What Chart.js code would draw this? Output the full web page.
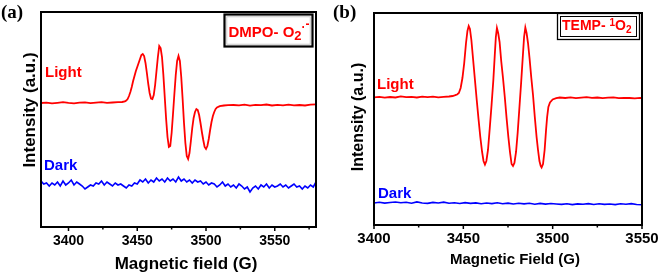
<!DOCTYPE html>
<html>
<head>
<meta charset="utf-8">
<title>EPR spectra</title>
<script src="https://cdn.jsdelivr.net/npm/chart.js@4.4.1/dist/chart.umd.min.js"></script>
<style>
    html, body { margin: 0; padding: 0; background: #fff; }
    #wrap { position: relative; width: 661px; height: 273px; }
    canvas { position: absolute; top: 0; }
    #chartA { left: 0; }
    #chartB { left: 330px; }
</style>
</head>
<body>
<div id="wrap">
    <canvas id="chartA" width="330" height="273"></canvas>
    <canvas id="chartB" width="331" height="273"></canvas>
</div>
<script>
// ---- Datos panel (a): DMPO ----
const ticksA = [3400, 3450, 3500, 3550];
const minorTicksA = [3425, 3475, 3525, 3575];

const fieldLightA = [3380, 3384, 3388, 3392, 3396, 3400, 3404, 3408, 3412, 3416, 3420, 3424, 3428, 3432, 3436, 3439, 3441,
    3442, 3443, 3444, 3445, 3446, 3447, 3448, 3449, 3450, 3451, 3452, 3453, 3454, 3455, 3456, 3457, 3458, 3459, 3460,
    3461, 3462, 3463, 3464, 3465, 3466, 3467, 3468, 3469, 3470, 3471, 3472, 3473, 3474, 3475, 3476, 3477, 3478, 3479,
    3480, 3481, 3482, 3483, 3484, 3485, 3486, 3487, 3488, 3489, 3490, 3491, 3492, 3493, 3494, 3495, 3496, 3497, 3498,
    3499, 3500, 3501, 3502, 3503, 3504, 3505, 3506, 3507, 3508, 3510, 3513, 3516,
    3520, 3524, 3528, 3532, 3536, 3540, 3544, 3548, 3552, 3556, 3560, 3564, 3568, 3572, 3576, 3580];
const lightA = [124.0, 124.4, 123.6, 124.2, 124.8, 124.1, 123.7, 124.3, 124.6, 123.9, 124.4, 124.9, 124.2, 124.5, 124.8, 125.0, 125.6,
    126.5, 128, 131, 135, 140, 146, 151, 156, 160, 164, 168, 172, 173, 171, 164, 154, 143, 134, 128.5,
    128, 132, 142, 156, 170, 181, 179, 170, 152, 130, 108, 90, 80, 81, 94, 113, 133, 152, 166,
    171, 166, 150, 128, 104, 84, 71, 68, 74, 86, 99, 109, 115, 118, 117, 112, 104, 95, 87,
    80, 78, 81, 88, 97, 105, 111, 115, 118, 119.5, 120.8, 121.5, 121.8,
    122.0, 121.6, 122.3, 121.4, 122.1, 121.8, 122.5, 121.5, 122.2, 121.7, 122.4, 121.6, 122.0, 121.5, 122.3, 122.6];

const fieldDarkA = [3380, 3382, 3384, 3386, 3388, 3390, 3392, 3394, 3396, 3398, 3400, 3402, 3404, 3406, 3408, 3410, 3412,
    3414, 3416, 3418, 3420, 3422, 3424, 3426, 3428, 3430, 3432, 3434, 3436, 3438, 3440, 3442, 3444, 3446, 3448, 3450,
    3452, 3454, 3456, 3458, 3460, 3462, 3464, 3466, 3468, 3470, 3472, 3474, 3476, 3478, 3480, 3482, 3484, 3486, 3488,
    3490, 3492, 3494, 3496, 3498, 3500, 3502, 3504, 3506, 3508, 3510, 3512, 3514, 3516, 3518, 3520, 3522, 3524, 3526,
    3528, 3530, 3532, 3534, 3536, 3538, 3540, 3542, 3544, 3546, 3548, 3550, 3552, 3554, 3556, 3558, 3560, 3562, 3564,
    3566, 3568, 3570, 3572, 3574, 3576, 3578, 3580];
const darkA = [46, 43, 44, 41, 44, 42, 45, 41, 46, 42, 44, 47, 42, 45, 43, 41, 38,
    40, 42, 41, 44, 43, 46, 42, 45, 43, 41, 44, 42, 43, 41, 39, 42, 41, 44, 43,
    47, 45, 48, 44, 47, 45, 49, 46, 48, 45, 49, 46, 48, 45, 50, 46, 48, 45, 47,
    44, 47, 45, 46, 43, 45, 42, 44, 43, 40, 42, 45, 41, 43, 40, 42, 39, 43, 41,
    38, 40, 35, 39, 41, 38, 42, 40, 43, 39, 42, 40, 41, 43, 40, 42, 39, 41, 43,
    40, 41, 38, 41, 39, 42, 40, 45];

// ---- Datos panel (b): TEMP ----
const ticksB = [3400, 3450, 3500, 3550];
const minorTicksB = [3425, 3475, 3525];

const fieldLightB = [3400, 3403, 3406, 3409, 3412, 3415, 3418, 3421, 3424, 3427, 3430, 3433, 3436, 3439, 3442, 3444, 3445.5,
    3446.5, 3447.5, 3448.5, 3449.5, 3450.5, 3451.5, 3452.3, 3453, 3453.7, 3454.5, 3455.5, 3456.5, 3457.5, 3458.5, 3459.5,
    3460.5, 3461.3, 3462.1, 3462.9, 3463.8, 3464.8, 3465.8, 3466.8, 3467.6, 3468.2, 3468.8, 3469.5, 3470.3, 3471.2, 3472.2,
    3473.2, 3474.2, 3475.2, 3476.1, 3477.0, 3477.8, 3478.6, 3479.5, 3480.4, 3481.3, 3482.3, 3483.2, 3484.0, 3484.7, 3485.4,
    3486.2, 3487.1, 3488.0, 3489.0, 3490.0, 3491.0, 3491.8, 3492.6, 3493.3, 3493.8, 3494.6, 3495.5, 3496.3, 3496.9, 3497.6,
    3498.5, 3500, 3502, 3504, 3507, 3510, 3513, 3516, 3519, 3522, 3525, 3528, 3531, 3534, 3537, 3540, 3543, 3546, 3549, 3550];
const lightB = [127.6, 128.2, 127.4, 128.0, 127.5, 128.6, 127.8, 128.1, 127.5, 128.3, 127.9, 128.4, 127.7, 128.2, 128.5, 129.0, 129.8,
    130.5, 132, 137, 147, 162, 182, 194, 199, 196, 185, 165, 145, 125, 106, 88,
    73, 64, 60.5, 64, 75, 97, 120, 145, 170, 188, 197, 192, 183, 164, 147,
    128, 107, 88, 73, 61, 59, 62, 73, 92, 115, 141, 166, 188, 197.5, 192,
    182, 166, 148, 130, 108, 88, 75, 64, 59, 57.5, 61, 75, 95, 108, 118,
    122.5, 125.5, 126.8, 127.5, 127.0, 127.6, 126.9, 127.4, 127.8, 127.1, 127.5, 126.8, 127.3, 127.6, 126.9, 127.2, 127.0, 126.7, 127.1, 126.9];

const fieldDarkB = [3400, 3403, 3406, 3409, 3412, 3415, 3418, 3421, 3424, 3427, 3430, 3433, 3436, 3439, 3442, 3445, 3448,
    3451, 3454, 3457, 3460, 3463, 3466, 3469, 3472, 3475, 3478, 3481, 3484, 3487, 3490, 3493, 3496, 3499, 3502, 3505,
    3508, 3511, 3514, 3517, 3520, 3523, 3526, 3529, 3532, 3535, 3538, 3541, 3544, 3547, 3550];
const darkB = [22.0, 22.8, 21.9, 22.5, 23.0, 22.2, 22.7, 21.8, 23.1, 22.0, 21.6, 22.6, 22.0, 22.9, 21.7, 22.3, 21.5,
    22.4, 21.6, 22.1, 21.2, 22.0, 21.4, 22.2, 21.3, 21.9, 21.0, 21.8, 21.1, 21.7, 20.8, 21.6, 20.9, 21.5, 21.0, 20.6,
    21.3, 20.4, 21.1, 20.7, 21.4, 20.5, 21.2, 20.6, 21.0, 20.4, 21.3, 20.8, 21.4, 20.5, 20.2];

const RED = '#ff0000';
const BLUE = '#0000ff';
const SANS = "'Liberation Sans', Arial, sans-serif";
const SERIF = "'Liberation Serif', 'Times New Roman', serif";

function toPoints(xs, ys) {
    return xs.map((x, i) => ({ x: x, y: ys[i] }));
}

// Dibuja trozos de texto (subíndices / superíndices) uno detrás de otro
function drawParts(ctx, parts, x, y, color) {
    ctx.fillStyle = color;
    ctx.textAlign = 'left';
    ctx.textBaseline = 'alphabetic';
    parts.forEach(p => {
        ctx.font = `bold ${p.size}px ${SANS}`;
        ctx.fillText(p.t, x, y + (p.dy || 0));
        x += ctx.measureText(p.t).width + (p.gap || 0);
    });
}

// Plugin con marco, marcas del eje, títulos y etiquetas
function panelPlugin(cfg) {
    return {
        id: 'panel_' + cfg.tag,
        afterDraw(chart) {
            const ctx = chart.ctx;
            const area = chart.chartArea;
            const xs = chart.scales.x;
            ctx.save();

            // marcas del eje x
            ctx.strokeStyle = '#000';
            ctx.lineWidth = 1.5;
            cfg.major.forEach(v => {
                const px = xs.getPixelForValue(v);
                ctx.beginPath();
                ctx.moveTo(px, area.bottom);
                ctx.lineTo(px, area.bottom + 4);
                ctx.stroke();
            });
            cfg.minor.forEach(v => {
                const px = xs.getPixelForValue(v);
                ctx.beginPath();
                ctx.moveTo(px, area.bottom);
                ctx.lineTo(px, area.bottom + 2.5);
                ctx.stroke();
            });

            // marco
            ctx.lineWidth = 2;
            ctx.strokeRect(area.left, area.top, area.right - area.left, area.bottom - area.top);

            // etiqueta del panel
            ctx.fillStyle = '#000';
            ctx.font = `bold 19px ${SERIF}`;
            ctx.textAlign = 'left';
            ctx.textBaseline = 'alphabetic';
            ctx.fillText(cfg.tag, cfg.tagX, 18);

            // título eje x
            ctx.font = `bold ${cfg.xTitleSize}px ${SANS}`;
            ctx.textAlign = 'center';
            ctx.fillText(cfg.xTitle, cfg.xTitleX, cfg.xTitleY);

            // título eje y
            ctx.save();
            ctx.translate(cfg.yTitleX, cfg.yTitleY);
            ctx.rotate(-Math.PI / 2);
            ctx.font = `bold ${cfg.yTitleSize}px ${SANS}`;
            ctx.textAlign = 'center';
            ctx.textBaseline = 'middle';
            ctx.fillText('Intensity (a.u.)', 0, 0);
            ctx.restore();

            // Light / Dark
            ctx.textAlign = 'left';
            ctx.font = `bold 15px ${SANS}`;
            ctx.fillStyle = RED;
            ctx.fillText('Light', cfg.lightPos[0], cfg.lightPos[1]);
            ctx.fillStyle = BLUE;
            ctx.fillText('Dark', cfg.darkPos[0], cfg.darkPos[1]);

            // recuadro de la especie
            cfg.drawBox(ctx);
            ctx.restore();
        }
    };
}

function makePanel(canvasId, cfg) {
    return new Chart(document.getElementById(canvasId), {
        type: 'line',
        data: {
            datasets: [{
                label: 'Light',
                data: toPoints(cfg.fieldLight, cfg.light),
                borderColor: RED,
                borderWidth: 1.8,
                pointRadius: 0,
                tension: 0
            }, {
                label: 'Dark',
                data: toPoints(cfg.fieldDark, cfg.dark),
                borderColor: BLUE,
                borderWidth: 1.6,
                pointRadius: 0,
                tension: 0
            }]
        },
        options: {
            responsive: false,
            animation: false,
            layout: { padding: cfg.padding },
            plugins: {
                legend: { display: false },
                tooltip: { enabled: false }
            },
            scales: {
                x: {
                    type: 'linear',
                    min: cfg.xMin,
                    max: cfg.xMax,
                    afterBuildTicks: scale => {
                        scale.ticks = cfg.major.map(v => ({ value: v }));
                    },
                    afterFit: scale => {
                        scale.height = cfg.axisHeight;
                    },
                    grid: { display: false, drawTicks: true, tickLength: 4 },
                    border: { display: false },
                    ticks: {
                        color: '#000',
                        padding: cfg.tickPadding,
                        maxRotation: 0,
                        autoSkip: false,
                        callback: value => String(value),
                        font: { family: SANS, size: cfg.tickSize, weight: 'bold' }
                    }
                },
                y: { display: false, min: cfg.yMin, max: cfg.yMax }
            }
        },
        plugins: [panelPlugin(cfg)]
    });
}

makePanel('chartA', {
    tag: '(a)', tagX: 1,
    fieldLight: fieldLightA, light: lightA,
    fieldDark: fieldDarkA, dark: darkA,
    major: ticksA, minor: minorTicksA,
    xMin: 3380, xMax: 3580, yMin: 0, yMax: 215,
    padding: { left: 41, right: 14, top: 12, bottom: 0 },
    axisHeight: 46, tickPadding: 2, tickSize: 14,
    xTitle: 'Magnetic field (G)', xTitleSize: 17, xTitleX: 186, xTitleY: 269,
    yTitleX: 30, yTitleY: 110, yTitleSize: 17,
    lightPos: [45, 77], darkPos: [44, 170],
    drawBox(ctx) {
        ctx.strokeStyle = '#000';
        ctx.lineWidth = 2.2;
        ctx.strokeRect(224.5, 14.5, 88, 32);
        ctx.strokeStyle = '#bbb';
        ctx.lineWidth = 0.8;
        ctx.strokeRect(226.8, 16.8, 83.4, 27.4);
        drawParts(ctx, [
            { t: 'DMPO- O', size: 15 },
            { t: '2', size: 13, dy: 3 },
            { t: '·', size: 12, dy: -6 },
            { t: '-', size: 12, dy: -9 }
        ], 228.5, 37, RED);
    }
});

makePanel('chartB', {
    tag: '(b)', tagX: 3,
    fieldLight: fieldLightB, light: lightB,
    fieldDark: fieldDarkB, dark: darkB,
    major: ticksB, minor: minorTicksB,
    xMin: 3400, xMax: 3550, yMin: 0, yMax: 212,
    padding: { left: 44, right: 19, top: 13, bottom: 0 },
    axisHeight: 48, tickPadding: 1, tickSize: 15,
    xTitle: 'Magnetic Field (G)', xTitleSize: 15, xTitleX: 185, xTitleY: 264,
    yTitleX: 29, yTitleY: 117, yTitleSize: 16,
    lightPos: [47, 89], darkPos: [48, 198],
    drawBox(ctx) {
        ctx.strokeStyle = '#000';
        ctx.lineWidth = 1.3;
        ctx.strokeRect(227.5, 13.5, 82, 26);
        ctx.lineWidth = 1;
        ctx.strokeRect(230.5, 16.5, 76, 20);
        drawParts(ctx, [
            { t: 'TEMP- ', size: 14 },
            { t: '1', size: 10, dy: -4 },
            { t: 'O', size: 14 },
            { t: '2', size: 10, dy: 3 }
        ], 232, 30, RED);
    }
});
</script>
</body>
</html>
